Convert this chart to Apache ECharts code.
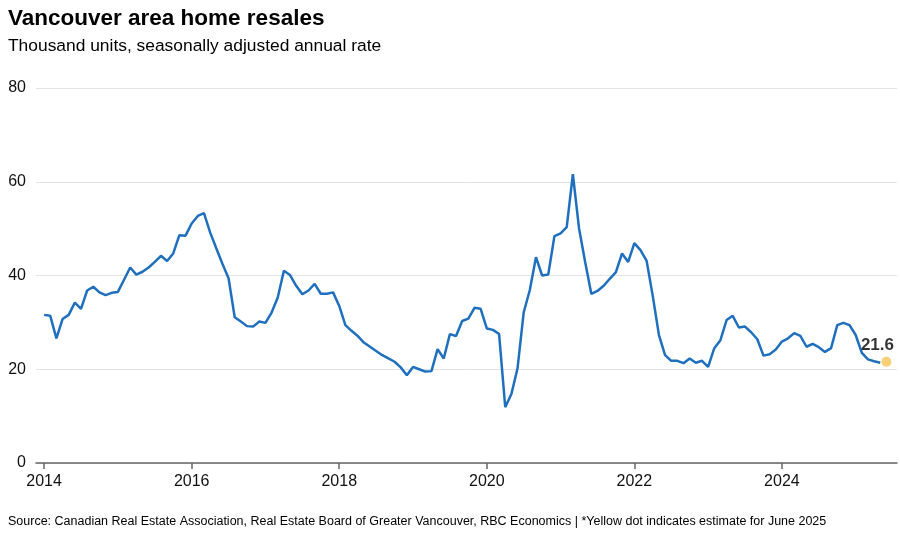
<!DOCTYPE html>
<html>
<head>
<meta charset="utf-8">
<title>Vancouver area home resales</title>
<script src="https://cdn.jsdelivr.net/npm/echarts@6/dist/echarts.min.js"></script>
<style>
  html, body { margin: 0; padding: 0; background: #fff; }
  #chart { width: 900px; height: 538px; }
</style>
</head>
<body>
<div id="chart"></div>
<script>
// monthly series, Jan 2014 -> May 2025 (thousand units, SAAR)
const startYear = 2014;
const resales = [
  31.6, 31.4, 26.6, 30.7, 31.6, 34.2, 32.9, 36.8, 37.6, 36.4, 35.8, 36.3,
  36.5, 39.1, 41.7, 40.2, 40.8, 41.7, 42.9, 44.2, 43.1, 44.7, 48.6, 48.5,
  51.1, 52.7, 53.3, 49.2, 45.8, 42.5, 39.4, 31.1, 30.2, 29.2, 29.1, 30.2,
  29.9, 32.1, 35.3, 41.0, 40.1, 37.8, 36.0, 36.8, 38.2, 36.1, 36.1, 36.4,
  33.5, 29.4, 28.2, 27.1, 25.7, 24.8, 23.9, 23.0, 22.3, 21.6, 20.4, 18.7,
  20.5, 20.0, 19.5, 19.6, 24.3, 22.3, 27.5, 27.1, 30.3, 30.8, 33.1, 32.9,
  28.7, 28.4, 27.5, 11.9, 14.7, 20.2, 32.1, 36.9, 43.9, 40.0, 40.2, 48.4,
  49.0, 50.3, 61.6, 50.1, 42.9, 36.1, 36.7, 37.8, 39.3, 40.7, 44.7, 42.9,
  46.9, 45.4, 43.1, 35.6, 27.3, 23.0, 21.8, 21.8, 21.3, 22.3, 21.4, 21.8,
  20.5, 24.5, 26.2, 30.5, 31.4, 28.9, 29.1, 27.9, 26.4, 22.9, 23.2, 24.2,
  25.9, 26.6, 27.7, 27.1, 24.8, 25.4, 24.7, 23.7, 24.5, 29.4, 29.9, 29.4,
  27.3, 23.5, 22.1, 21.7, 21.4
];
// June 2025 estimate (yellow dot)
const estimate = 21.6;
const yearTicks = [2014, 2016, 2018, 2020, 2022, 2024];
const yTicks = [0, 20, 40, 60, 80];

const font = "'Liberation Sans', Arial, sans-serif";
const toYear = (i) => startYear + i / 12;

let myChart = echarts.init(document.getElementById("chart"));

myChart.setOption({
  animation: false,
  title: [
    {
      text: "Vancouver area home resales",
      left: 8,
      top: 7,
      padding: 0,
      textStyle: { fontFamily: font, fontSize: 22.5, fontWeight: "bold", color: "#000" },
    },
    {
      text: "Thousand units, seasonally adjusted annual rate",
      left: 8,
      top: 38,
      padding: 0,
      textStyle: { fontFamily: font, fontSize: 17.4, fontWeight: "normal", color: "#000" },
    },
    {
      text: "Source: Canadian Real Estate Association, Real Estate Board of Greater Vancouver, RBC Economics | *Yellow dot indicates estimate for June 2025",
      left: 8,
      top: 515,
      padding: 0,
      textStyle: { fontFamily: font, fontSize: 12.5, fontWeight: "normal", color: "#000" },
    },
  ],
  grid: {
    left: 36,
    right: 3,
    top: 88,
    bottom: 75,
  },
  xAxis: {
    type: "value",
    min: 2013.89,
    max: 2025.56,
    splitLine: { show: false },
    axisLine: { show: true, lineStyle: { color: "#666", width: 1.5 } },
    axisTick: {
      show: true,
      length: 6,
      customValues: yearTicks,
      lineStyle: { color: "#666", width: 1.5 },
    },
    axisLabel: {
      customValues: yearTicks,
      formatter: (v) => String(v),
      margin: 11,
      color: "#111",
      fontFamily: font,
      fontSize: 16,
    },
  },
  yAxis: {
    type: "value",
    min: 0,
    max: 80,
    interval: 20,
    axisLine: { show: false },
    axisTick: { show: false },
    splitLine: { lineStyle: { color: "#e3e3e3", width: 1 } },
    axisLabel: {
      margin: 10,
      color: "#111",
      fontFamily: font,
      fontSize: 16,
      formatter: (v) => (yTicks.includes(v) ? String(v) : ""),
    },
  },
  series: [
    {
      type: "line",
      data: resales.map((v, i) => [toYear(i), v]),
      showSymbol: false,
      lineStyle: { color: "#1f6fbf", width: 2.5 },
      z: 2,
    },
    {
      type: "scatter",
      data: [[toYear(resales.length), estimate]],
      symbolSize: 10,
      itemStyle: { color: "#f6c453" },
      label: {
        show: true,
        position: "top",
        distance: 3,
        offset: [-9, 0],
        formatter: () => estimate.toFixed(1),
        fontFamily: font,
        fontSize: 17,
        fontWeight: "bold",
        color: "#000",
      },
      z: 3,
    },
  ],
});
</script>
</body>
</html>
